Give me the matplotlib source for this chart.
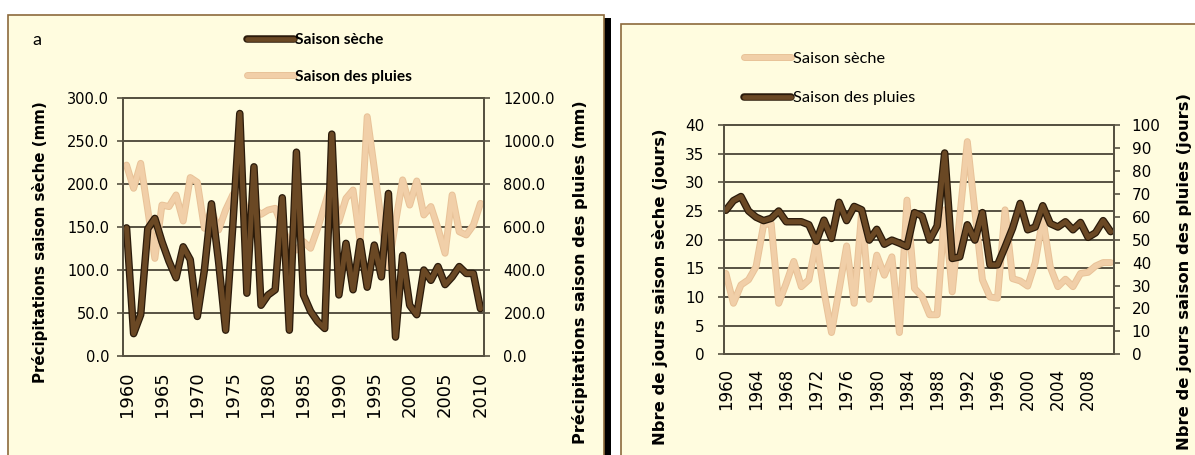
import numpy as np
import matplotlib
matplotlib.use('Agg')
import matplotlib.pyplot as plt
from matplotlib.patches import Rectangle
import matplotlib.patheffects as pe

# ---- data ----
years_a = list(range(1960, 2011))
seche_a = [149, 26, 48, 148, 160, 133, 110, 91, 127, 112,
           46, 100, 177, 110, 30, 150, 282, 73, 220, 59,
           71, 77, 184, 30, 237, 71, 52, 40, 32, 258,
           71, 131, 77, 133, 80, 129, 92, 189, 22, 117,
           59, 48, 100, 88, 104, 83, 92, 104, 96, 96, 55]
pluies_a = [888, 780, 896, 680, 454, 702, 695, 749, 628, 830,
            808, 594, 679, 586, 679, 749, 792, 656, 687, 659,
            679, 687, 602, 516, 493, 532, 501, 594, 702, 811,
            625, 733, 772, 532, 1113, 873, 625, 415, 620, 819,
            702, 814, 656, 695, 594, 478, 749, 578, 563, 609, 710]

years_b = list(range(1960, 2012))
seche_b = [14.1, 8.9, 12.1, 13.0, 15.3, 22.6, 22.8, 8.9, 12.4, 16.2,
           11.8, 13.0, 19.7, 11.0, 3.8, 11.2, 18.9, 8.9, 24.9, 9.6,
           17.3, 13.8, 17.0, 3.8, 26.9, 11.5, 10.1, 6.9, 6.9, 25.2,
           10.9, 24.0, 37.1, 25.0, 13.0, 10.0, 9.8, 25.2, 13.2, 12.8,
           11.9, 16.0, 23.8, 15.2, 11.8, 13.1, 11.8, 14.1, 14.3, 15.4,
           16.0, 16.0]
pluies_b = [62.8, 67.0, 68.8, 62.5, 59.8, 58.3, 59.3, 62.5, 57.8, 57.8,
            57.8, 56.5, 49.3, 58.5, 50.5, 66.3, 58.3, 64.5, 63.0, 49.8,
            54.5, 48.0, 49.8, 48.5, 47.0, 61.8, 60.3, 49.8, 56.0, 87.8,
            41.8, 42.5, 56.5, 49.8, 61.8, 39.0, 39.0, 46.8, 55.0, 65.8,
            54.3, 55.5, 64.8, 57.0, 55.5, 57.8, 54.3, 57.5, 51.0, 53.0,
            58.3, 53.5]

W, H = 1195, 455
cream = '#FFFCDF'
grid_c = '#575242'
dark = '#6A4824'
light = '#F1CFA8'

fig = plt.figure(figsize=(W / 100, H / 100), dpi=100)
fig.patch.set_facecolor('white')

def px(x, y):
    return x / W, 1 - y / H

def box(x0, y0, x1, y1, **kw):
    fig.patches.append(Rectangle((x0 / W, 1 - y1 / H), (x1 - x0) / W, (y1 - y0) / H,
                                 transform=fig.transFigure, zorder=-10, **kw))

# panel backgrounds
box(604, 18, 611, 460, facecolor='black', edgecolor='none')
box(8, 15, 604, 462, facecolor=cream, edgecolor='#8C6A3C', lw=1.2)
box(621, 24, 1200, 462, facecolor=cream, edgecolor='#8C6A3C', lw=1.2)

dark_fx = [pe.Stroke(linewidth=5.4, foreground='#2A1A0A'), pe.Normal()]
light_fx = [pe.Stroke(linewidth=5.0, foreground='#E8C298'), pe.Normal()]

def style_axes(ax):
    ax.set_facecolor('none')
    for s in ax.spines.values():
        s.set_color(grid_c)
        s.set_linewidth(1.4)

# ---------------- panel a ----------------
l, b = px(123, 356)
r, t = px(484, 98)
ax2 = fig.add_axes([l, b, r - l, t - b])   # pluies (right scale), bottom layer
ax1 = ax2.twinx()
ax1.set_zorder(ax2.get_zorder() + 1)
ax1.patch.set_visible(False)
style_axes(ax1)
style_axes(ax2)

x_a = np.arange(len(years_a))
ax2.plot(x_a, pluies_a, color=light, lw=3.6, solid_capstyle='round', path_effects=light_fx)
ax1.plot(x_a, seche_a, color=dark, lw=3.6, solid_capstyle='round', path_effects=dark_fx)

ax2.set_xlim(-0.5, len(years_a) - 0.5)
ax2.set_ylim(0, 1200)
ax1.set_ylim(0, 300)
ax2.set_yticks(np.arange(0, 1201, 200))
ax2.grid(axis='y', color=grid_c, lw=1.4)
ax2.yaxis.tick_right()
ax1.yaxis.tick_left()
ax1.set_yticks(np.arange(0, 301, 50))
ax1.set_yticklabels(['%.1f' % v for v in np.arange(0, 301, 50)])
ax2.set_yticklabels(['%.1f' % v for v in np.arange(0, 1201, 200)])
ticks_a = [i for i, yv in enumerate(years_a) if yv % 5 == 0]
ax2.set_xticks(ticks_a)
ax2.set_xticklabels([str(years_a[i]) for i in ticks_a], rotation=90, fontsize=13)
ax2.tick_params(axis='x', length=0, pad=11, colors='black')
ax1.tick_params(axis='y', length=4, width=1.2, color=grid_c, pad=6, labelsize=10.5)
ax2.tick_params(axis='y', length=4, width=1.2, color=grid_c, pad=10, labelsize=10.5)

fig.text(*px(40, 242), 'Précipitations saison sèche (mm)', rotation=90,
         ha='center', va='center', fontsize=10.8, fontweight='bold')
fig.text(*px(580, 272), 'Précipitations saison des pluies (mm)', rotation=90,
         ha='center', va='center', fontsize=11.6, fontweight='bold')
fig.text(*px(32, 40), 'a', fontsize=13, family='Lato', va='center')

h1, = ax1.plot([], [], color=dark, lw=3.4, solid_capstyle='round', path_effects=dark_fx)
h2, = ax1.plot([], [], color=light, lw=3.6, solid_capstyle='round', path_effects=light_fx)
fig.legend([h1, h2], ['Saison sèche', 'Saison des pluies'], loc='upper left',
           bbox_to_anchor=px(233, 19), frameon=False, handlelength=3.0,
           handletextpad=0.1, labelspacing=1.45,
           prop={'family': 'Lato', 'weight': 'bold', 'size': 11.2})

# ---------------- panel b ----------------
l, b = px(724, 354.3)
r, t = px(1113.7, 125)
ax3 = fig.add_axes([l, b, r - l, t - b])   # saison seche (left scale)
ax4 = ax3.twinx()                          # saison des pluies (right scale)
style_axes(ax3)
style_axes(ax4)

x_b = np.arange(len(years_b))
ax3.plot(x_b, seche_b, color=light, lw=3.6, solid_capstyle='round', path_effects=light_fx)
ax4.plot(x_b, pluies_b, color=dark, lw=3.6, solid_capstyle='round', path_effects=dark_fx)

ax3.set_xlim(-0.25, len(years_b) - 0.6)
ax3.set_ylim(0, 40)
ax4.set_ylim(0, 100)
ax3.set_yticks(np.arange(0, 41, 5))
ax4.set_yticks(np.arange(0, 101, 10))
ax3.grid(axis='y', color=grid_c, lw=1.4)
ticks_b = [i for i, yv in enumerate(years_b) if yv % 4 == 0 and yv <= 2008]
ax3.set_xticks(ticks_b)
ax3.set_xticklabels([str(years_b[i]) for i in ticks_b], rotation=90, fontsize=12)
ax3.tick_params(axis='x', length=0, pad=10)
ax3.tick_params(axis='y', length=4, width=1.2, color=grid_c, pad=10, labelsize=11)
ax4.tick_params(axis='y', length=4, width=1.2, color=grid_c, pad=9, labelsize=11)

fig.text(*px(660, 287), 'Nbre de jours saison sèche (jours)', rotation=90,
         ha='center', va='center', fontsize=11.8, fontweight='bold')
fig.text(*px(1185, 271), 'Nbre de jours saison des pluies (jours)', rotation=90,
         ha='center', va='center', fontsize=11.8, fontweight='bold')

h3, = ax3.plot([], [], color=light, lw=3.6, solid_capstyle='round', path_effects=light_fx)
h4, = ax3.plot([], [], color=dark, lw=3.4, solid_capstyle='round', path_effects=dark_fx)
fig.legend([h3, h4], ['Saison sèche', 'Saison des pluies'], loc='upper left',
           bbox_to_anchor=px(729, 37), frameon=False, handlelength=2.9,
           handletextpad=0.1, labelspacing=1.5,
           prop={'family': 'Lato', 'size': 11.8})

fig.savefig('out.png', dpi=100, facecolor='white')
